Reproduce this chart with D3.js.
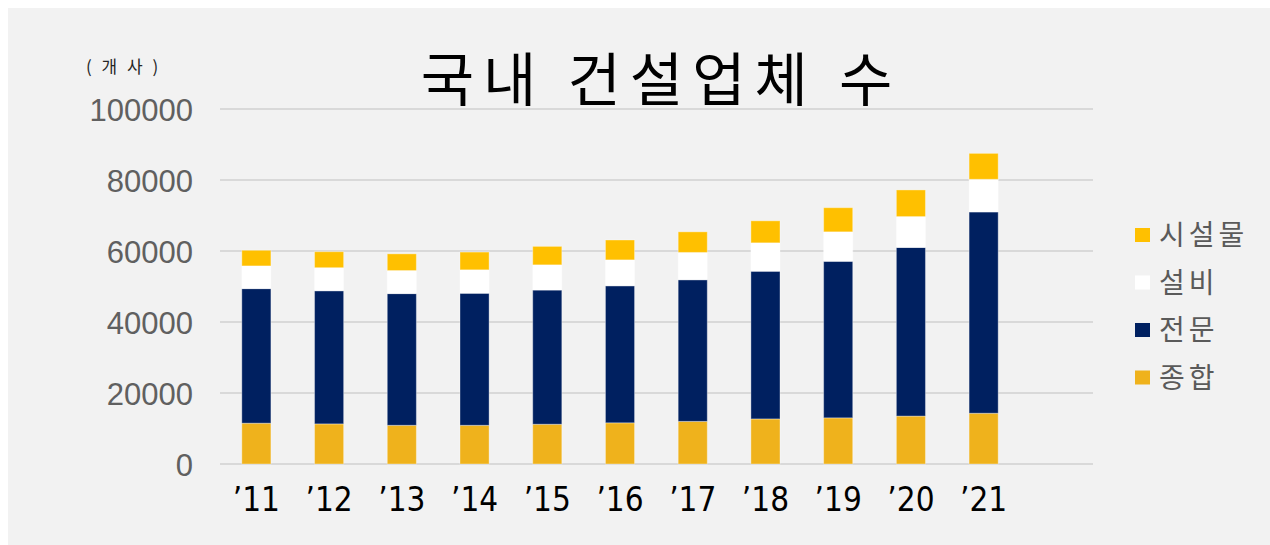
<!DOCTYPE html>
<html>
<head>
<meta charset="utf-8">
<script src="https://cdn.jsdelivr.net/npm/d3@7"></script>
<style>
  html, body { margin: 0; padding: 0; background: #ffffff; }
  svg { display: block; }
</style>
</head>
<body>
<svg id="chart" width="1270" height="545"></svg>
<script>
// ---- data ----
const years = ["’11", "’12", "’13", "’14", "’15", "’16", "’17", "’18", "’19", "’20", "’21"];
const seriesNames = ["종합", "전문", "설비", "시설물"];
const general   = [11500, 11300, 10900, 10900, 11200, 11600, 12000, 12700, 13000, 13500, 14300]; // 종합
const special   = [37900, 37500, 37100, 37200, 37800, 38600, 39900, 41600, 44100, 47500, 56700]; // 전문
const equipment = [6400, 6500, 6500, 6600, 7100, 7300, 7700, 8000, 8300, 8700, 9200];           // 설비
const facility  = [4400, 4500, 4700, 5000, 5200, 5600, 5800, 6200, 6800, 7500, 7300];           // 시설물
const yTicks = [0, 20000, 40000, 60000, 80000, 100000];
const titleText = "국내 건설업체 수";
const unitText = "( 개 사 )";

const colors = { "종합": "#EFB21C", "전문": "#002060", "설비": "#FFFFFF", "시설물": "#FFC000" };

// ---- build table ----
const rows = years.map((y, i) => ({
  year: y, "종합": general[i], "전문": special[i], "설비": equipment[i], "시설물": facility[i]
}));
const stacked = d3.stack().keys(seriesNames)(rows);

const svg = d3.select("#chart");

// background panel
svg.append("rect").attr("x", 8).attr("y", 8).attr("width", 1262).attr("height", 537).attr("fill", "#F2F2F2");

const x = d3.scaleBand().domain(years).range([220, 1020]).paddingInner(0.6).paddingOuter(0.3);
const y = d3.scaleLinear().domain([0, 100000]).range([464, 109]);

// gridlines
svg.append("g").selectAll("line").data(yTicks).join("line")
  .attr("x1", 220).attr("x2", 1093)
  .attr("y1", d => y(d)).attr("y2", d => y(d))
  .attr("stroke", "#D9D9D9").attr("stroke-width", 2);

// y axis labels
const yAxis = d3.axisLeft(y).tickValues(yTicks).tickFormat(d3.format("d")).tickSize(0).tickPadding(0);
const yg = svg.append("g").attr("transform", "translate(193,0)").call(yAxis);
yg.select(".domain").remove();
yg.selectAll("text")
  .attr("font-family", "'Liberation Sans', Arial, sans-serif")
  .attr("font-size", 31).attr("fill", "#606060").attr("dy", "0.36em");

// bars
svg.append("g").selectAll("g").data(stacked).join("g")
  .attr("fill", d => colors[d.key])
  .selectAll("rect").data(d => d).join("rect")
  .attr("x", d => x(d.data.year))
  .attr("width", x.bandwidth())
  .attr("y", d => y(d[1]))
  .attr("height", d => y(d[0]) - y(d[1]))
  .attr("stroke", "#ffffff").attr("stroke-opacity", 0.35).attr("stroke-width", 1);

// x axis labels
const xAxis = d3.axisBottom(x).tickSize(0).tickPadding(0);
const xg = svg.append("g").attr("transform", "translate(0,511)").call(xAxis);
xg.select(".domain").remove();
xg.selectAll("text")
  .attr("font-family", "'Liberation Sans Narrow', 'DejaVu Sans Condensed', sans-serif")
  .attr("font-size", 33).attr("fill", "#000000").attr("dy", 0);

// title
svg.append("text").attr("x", 661).attr("y", 101).attr("text-anchor", "middle")
  .attr("font-family", "'Noto Sans CJK KR', sans-serif").attr("font-size", 58)
  .attr("font-weight", 400).attr("letter-spacing", 9).attr("fill", "#000").text(titleText);

// unit label
svg.append("text").attr("x", 86).attr("y", 73)
  .attr("font-family", "'Noto Sans CJK KR', sans-serif").attr("font-size", 17)
  .attr("letter-spacing", 3).attr("fill", "#262626").text(unitText);

// legend
const legendOrder = ["시설물", "설비", "전문", "종합"];
const lg = svg.append("g").selectAll("g").data(legendOrder).join("g")
  .attr("transform", (d, i) => `translate(1135,${235 + i * 47.5})`);
lg.append("rect").attr("x", 0).attr("y", -7).attr("width", 15).attr("height", 14)
  .attr("fill", d => colors[d]);
lg.append("text").attr("x", 24).attr("y", 0).attr("dy", "0.36em")
  .attr("font-family", "'Noto Sans CJK KR', sans-serif").attr("font-size", 28)
  .attr("letter-spacing", 4).attr("fill", "#5a5a5a").text(d => d);
</script>
</body>
</html>
